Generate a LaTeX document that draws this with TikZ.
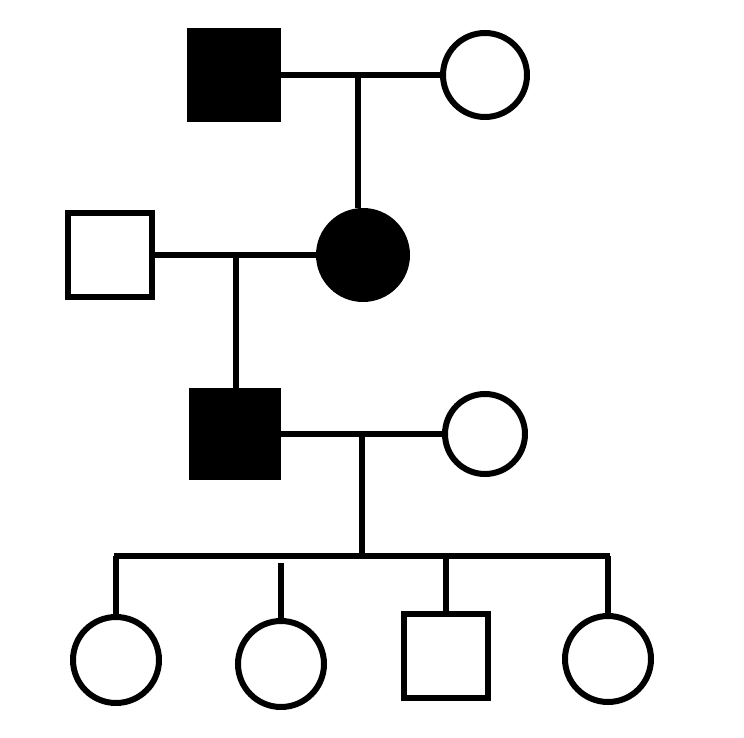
\documentclass[tikz,border=0pt]{standalone}
\begin{document}
\begin{tikzpicture}[x=1pt,y=-1pt,line width=6pt,
  sq/.style={draw,rectangle,minimum size=#1pt,inner sep=0pt},
  ci/.style={draw,circle,minimum size=#1pt,inner sep=0pt}]
\useasboundingbox (0,0) rectangle (744,738);
\node[sq=88,fill=black] (g1m) at (234,75) {};
\node[ci=84] (g1f) at (485,75) {};
\node[sq=84] (g2m) at (110,255) {};
\node[ci=88,fill=black] (g2f) at (363,255) {};
\node[sq=86,fill=black] (g3m) at (235,434) {};
\node[ci=80] (g3f) at (485,434) {};
\node[ci=86] (c1) at (116,660) {};
\node[ci=86] (c2) at (281,664) {};
\node[sq=84] (c3) at (446,656) {};
\node[ci=86] (c4) at (608,659) {};
\coordinate (m1) at (358,75);
\coordinate (m2) at (236,255);
\coordinate (m3) at (362,434);
\coordinate (sl) at (114,556);
\coordinate (sr) at (610,556);
\coordinate (d2) at (281,563);
\draw (g1m) -- (g1f);
\draw (m1) -- (m1 |- g2f.north);
\draw (g2m) -- (g2f);
\draw (m2) -- (m2 |- g3m.north);
\draw (g3m) -- (g3f);
\draw (m3) -- (m3 |- sl);
\draw (sl) -- (sr);
\draw (c1.north |- sl) -- (c1.north);
\draw (d2) -- (c2.north);
\draw (c3.north |- sl) -- (c3.north);
\draw (c4.north |- sl) -- (c4.north);
\end{tikzpicture}
\end{document}
